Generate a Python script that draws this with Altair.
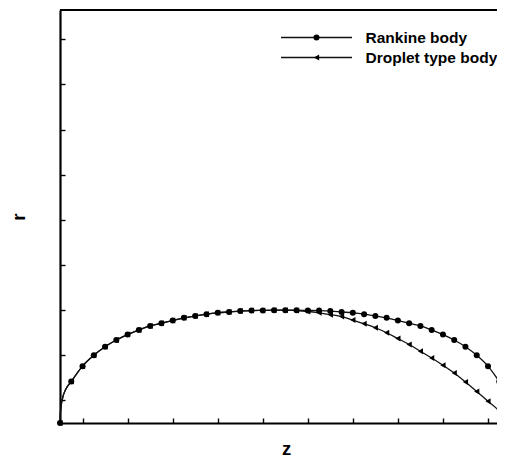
import altair as alt
import pandas as pd

# ---- data ----
z_grid = [-0.5, -0.475, -0.45, -0.425, -0.4, -0.375, -0.35, -0.325, -0.3, -0.275,
          -0.25, -0.225, -0.2, -0.175, -0.15, -0.125, -0.1, -0.075, -0.05, -0.025,
          0.0, 0.025, 0.05, 0.075, 0.1, 0.125, 0.15, 0.175, 0.2, 0.225,
          0.25, 0.275, 0.3, 0.325, 0.35, 0.375, 0.4, 0.425, 0.45, 0.475, 0.5]

rankine_r = [0.0, 0.092, 0.126, 0.150, 0.169, 0.184, 0.196, 0.206, 0.215, 0.221,
             0.227, 0.233, 0.237, 0.241, 0.244, 0.246, 0.248, 0.249, 0.2495, 0.250,
             0.250, 0.250, 0.2495, 0.249, 0.248, 0.246, 0.244, 0.241, 0.237, 0.233,
             0.227, 0.221, 0.215, 0.206, 0.196, 0.184, 0.169, 0.150, 0.126, 0.092, 0.0]

droplet_r = [0.0, 0.092, 0.126, 0.150, 0.169, 0.184, 0.196, 0.206, 0.215, 0.221,
             0.227, 0.233, 0.237, 0.241, 0.244, 0.246, 0.248, 0.249, 0.2495, 0.250,
             0.250, 0.249, 0.247, 0.244, 0.240, 0.236, 0.228, 0.220, 0.211, 0.200,
             0.187, 0.174, 0.159, 0.144, 0.128, 0.111, 0.091, 0.070, 0.048, 0.027, 0.0]

# extra curve-only points read near the blunt stagnation ends (no markers there)
rankine_curve_z = [-0.499, -0.495, -0.4875, 0.4875, 0.495, 0.499]
rankine_curve_r = [0.025, 0.052, 0.074, 0.074, 0.052, 0.025]
droplet_curve_z = [-0.499, -0.495, -0.4875]
droplet_curve_r = [0.025, 0.052, 0.074]

series_names = ["Rankine body", "Droplet type body"]
series_shapes = ["circle", "triangle-left"]

x_major = [-0.4, -0.2, 0.0, 0.2, 0.4]
x_minor = [-0.45, -0.35, -0.3, -0.25, -0.15, -0.1, -0.05, 0.05, 0.1, 0.15, 0.25, 0.3, 0.35, 0.45]
y_major = [0.2, 0.4, 0.6, 0.8]
y_minor = [0.05, 0.1, 0.15, 0.25, 0.3, 0.35, 0.45, 0.5, 0.55, 0.65, 0.7, 0.75, 0.85, 0.9]

# ---- tables ----
pts = pd.concat([
    pd.DataFrame({"z": z_grid, "r": rankine_r, "series": series_names[0]}),
    pd.DataFrame({"z": z_grid, "r": droplet_r, "series": series_names[1]}),
], ignore_index=True)

line_df = pd.concat([
    pts,
    pd.DataFrame({"z": rankine_curve_z, "r": rankine_curve_r, "series": series_names[0]}),
    pd.DataFrame({"z": droplet_curve_z, "r": droplet_curve_r, "series": series_names[1]}),
], ignore_index=True).sort_values(["series", "z"])

W, H = 437, 413
FONT = "Liberation Sans"
xscale = alt.Scale(domain=[-0.5, 0.47], nice=False, zero=False)
yscale = alt.Scale(domain=[0, 0.915], nice=False, zero=False)

# minor tick values are not multiples of 0.2
is_minor = "abs(datum.value * 5 - round(datum.value * 5)) > 0.001"
label_expr = ("(" + is_minor + ") ? '' : (datum.value == 0 ? '0' : "
              "replace(format(datum.value, '.1f'), '\u2212', '-'))")

TICK_LEN = 10  # inward major tick length; minor ticks are dashed down to 5px
minor_dash = {"condition": {"test": is_minor, "value": [5, 40]}, "value": [14, 1]}

x_axis = alt.Axis(orient="bottom", values=sorted(x_major + x_minor), labelExpr=label_expr,
                  ticks=True, tickSize={"expr": str(-TICK_LEN)}, tickColor="black", tickWidth=1.4,
                  tickDash=minor_dash,
                  grid=False, domainColor="black", domainWidth=2.2, labelFont=FONT, labelFontSize=15,
                  labelColor="#222", labelPadding=1 + TICK_LEN, labelFlush=False,
                  title="z", titleFont=FONT, titleFontSize=18.5, titleFontWeight="bold",
                  titleColor="black", titleX=226, titleY=31.5, titleBaseline="alphabetic",
                  titleAlign="center")
y_axis = alt.Axis(orient="left", values=sorted(y_major + y_minor), labelExpr=label_expr,
                  ticks=True, tickSize={"expr": str(-TICK_LEN)}, tickColor="black", tickWidth=1.4,
                  tickDash=minor_dash,
                  grid=False, domainColor="black", domainWidth=2.2, labelFont=FONT, labelFontSize=15,
                  labelColor="#222", labelPadding=6.5 + TICK_LEN, labelFlush=False,
                  title="r", titleFont=FONT, titleFontSize=19, titleFontWeight="bold",
                  titleColor="black", titleX=-42, titleY=H / 2, titleBaseline="middle",
                  titleAlign="center")

shape_scale = alt.Scale(domain=series_names, range=series_shapes)

lines = alt.Chart(line_df).mark_line(color="#111", strokeWidth=1.3, interpolate="monotone").encode(
    x=alt.X("z:Q", scale=xscale, axis=x_axis),
    y=alt.Y("r:Q", scale=yscale, axis=y_axis),
    detail="series:N",
)

markers = alt.Chart(pts).mark_point(filled=True, color="black", opacity=1, size=36).encode(
    x=alt.X("z:Q", scale=xscale),
    y=alt.Y("r:Q", scale=yscale),
    shape=alt.Shape("series:N", scale=shape_scale, legend=None),
)

one = pd.DataFrame({"a": [0]})
top_border = alt.Chart(one).mark_rule(color="black", strokeWidth=2.2).encode(
    x=alt.value(0), x2=alt.value(W), y=alt.value(0))

# manual legend
legend_layers = []
for i, (name, shp) in enumerate(zip(series_names, series_shapes)):
    ly = 27.5 + 20 * i
    ldf = pd.DataFrame({"label": [name]})
    legend_layers.append(alt.Chart(ldf).mark_rule(color="#111", strokeWidth=1.3).encode(
        x=alt.value(221), x2=alt.value(292), y=alt.value(ly)))
    legend_layers.append(alt.Chart(ldf).mark_point(filled=True, color="black", opacity=1, size=36, shape=shp).encode(
        x=alt.value(256.5), y=alt.value(ly)))
    legend_layers.append(alt.Chart(ldf).mark_text(align="left", baseline="middle", font=FONT,
                                                  fontSize=15.5, fontWeight="bold", color="black").encode(
        x=alt.value(305.5), y=alt.value(ly), text="label:N"))

chart = alt.layer(
    lines, markers, top_border, *legend_layers,
).properties(
    width=W, height=H,
    autosize=alt.AutoSizeParams(type="none"),
    padding={"left": 52, "top": 2, "right": 0, "bottom": 35},
).configure_view(stroke=None)

chart.save("out.html", embed_options={"renderer": "svg", "actions": False})
